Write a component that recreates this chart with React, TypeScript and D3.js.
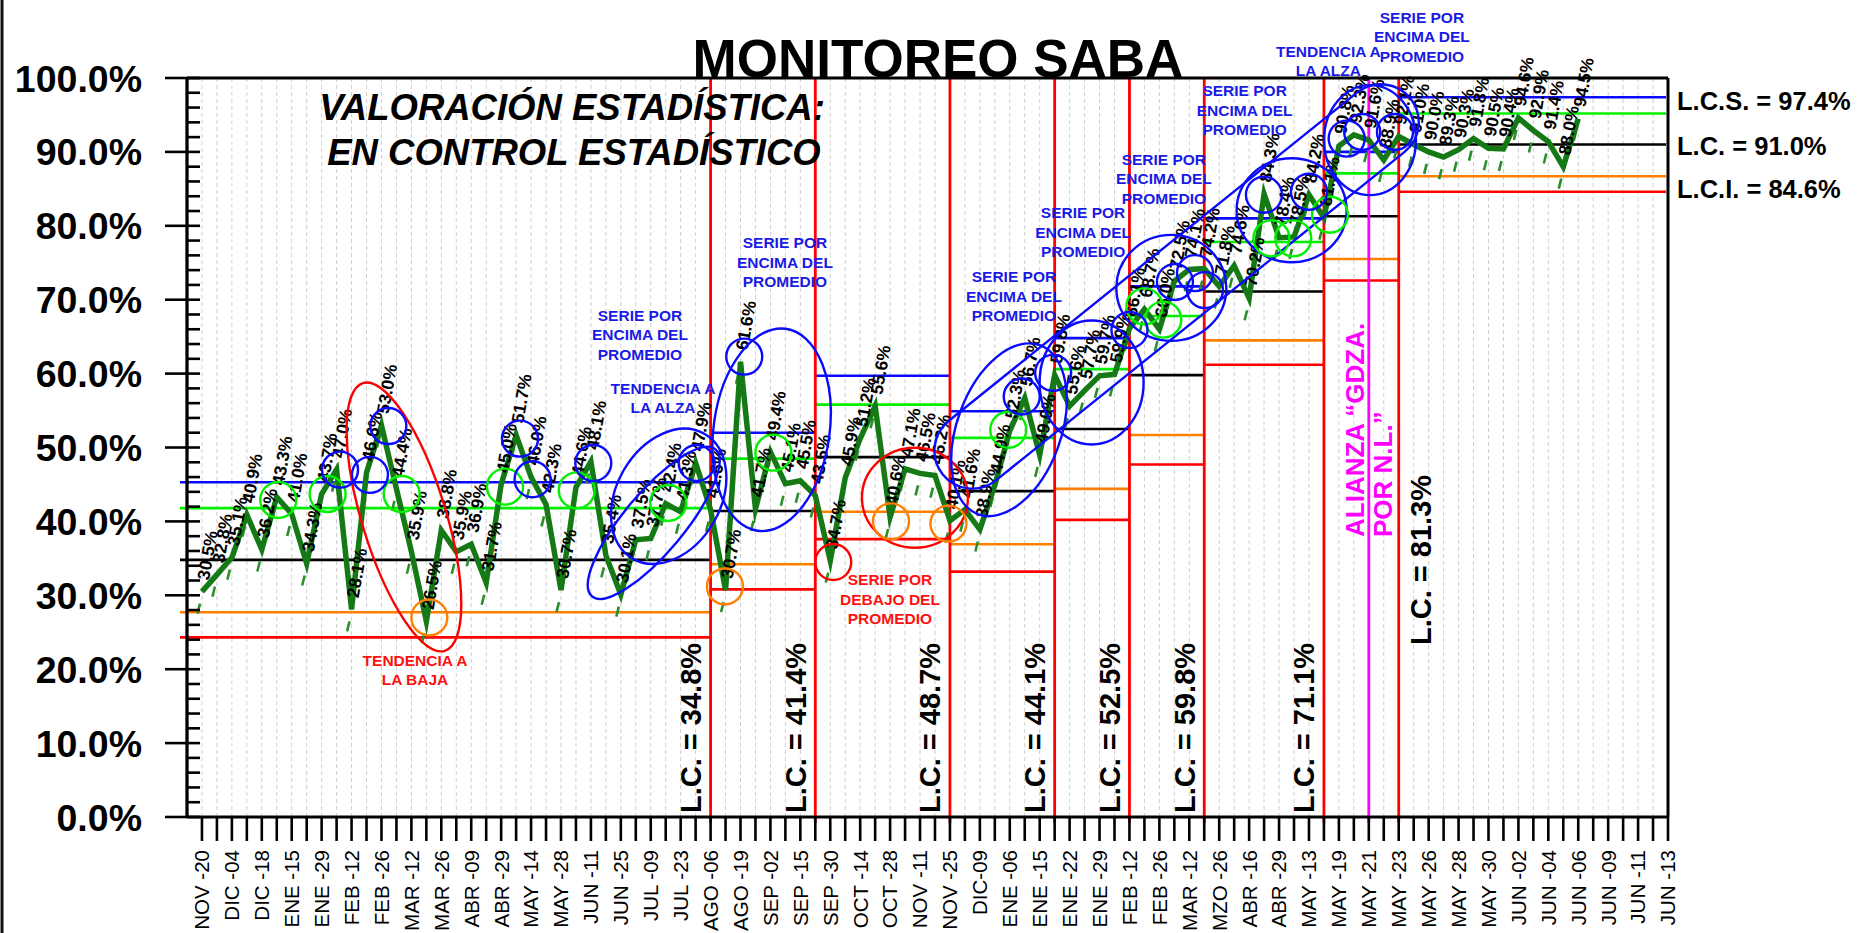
import React from 'react';
import * as d3 from 'd3';

const values = [
  30.5, 32.8, 35.1, 40.9, 36.2, 43.3, 41.0, 34.3, 43.7, 47.0,
  28.1, 46.6, 53.0, 44.4, 35.9, 26.5, 38.8, 35.9, 36.9, 31.7,
  45.0, 51.7, 46.0, 42.3, 30.7, 44.6, 48.1, 35.4, 30.1, 37.5,
  37.7, 42.4, 41.3, 47.9, 41.6,
  30.7, 61.6, 41.7, 49.4, 45.1, 45.5, 43.5,
  34.7, 45.9, 51.2, 55.6, 40.6, 47.1, 46.5, 46.2, 40.1,
  41.6, 38.9, 44.9, 52.3, 56.7, 49.0, 59.8,
  55.6, 57.7, 59.7, 59.9, 66.1,
  68.7, 66.0, 72.5, 74.1, 74.2,
  71.8, 74.6, 70.2, 84.3, 78.4, 78.5, 84.2, 81.1,
  90.8, 92.3, 91.6, 88.9, 92.1,
  91.0, 90.0, 89.3, 90.3, 91.8, 90.5, 90.4, 94.6, 92.9, 91.4, 88.0, 94.5,
];

const dateLabels = [
  'NOV -20', 'DIC -04', 'DIC -18', 'ENE -15', 'ENE -29', 'FEB -12', 'FEB -26', 'MAR -12', 'MAR -26', 'ABR -09',
  'ABR -29', 'MAY -14', 'MAY -28', 'JUN -11', 'JUN -25', 'JUL -09', 'JUL -23', 'AGO -06', 'AGO -19', 'SEP -02',
  'SEP -15', 'SEP -30', 'OCT -14', 'OCT -28', 'NOV -11', 'NOV -25', 'DIC-09', 'ENE -06', 'ENE -15', 'ENE -22',
  'ENE -29', 'FEB -12', 'FEB -26', 'MAR -12', 'MZO -26', 'ABR -16', 'ABR -29', 'MAY -13', 'MAY -19', 'MAY -21',
  'MAY -23', 'MAY -26', 'MAY -28', 'MAY -30', 'JUN -02', 'JUN -04', 'JUN -06', 'JUN -09', 'JUN -11', 'JUN -13',
];

const yTicks = [0, 10, 20, 30, 40, 50, 60, 70, 80, 90, 100];

const segStart = [0, 35, 42, 51, 58, 63, 68, 76, 81];
const segEnd = [35, 42, 51, 58, 63, 68, 76, 81, 99];
const segLC = [34.8, 41.4, 48.7, 44.1, 52.5, 59.8, 71.1, 81.3, 91.0];
const segLCS = [45.3, 52.0, 59.7, 54.9, 64.8, 71.8, 81.0, 90.0, 97.4];
const segUpper2 = [41.8, 48.5, 55.8, 51.3, 60.6, 67.8, 77.8, 87.1, 95.2];
const segLower2 = [27.7, 34.2, 41.3, 36.9, 44.4, 51.7, 64.5, 75.5, 86.7];
const segLCI = [24.3, 30.8, 37.6, 33.2, 40.2, 47.7, 61.2, 72.6, 84.6];

const redBreaks = [35, 42, 51, 58, 63, 68, 76, 81];
const allianceBreak = 79;

// annotation shapes in data coordinates [k, value]
const greenCircles = [[6.1, 42.9], [9.4, 43.7], [14.35, 43.7], [21.26, 44.7], [26.05, 44.2], [32.17, 42.5], [39.2, 49.3], [54.9, 52.4], [64.0, 69.1], [65.26, 67.3], [72.49, 78.3], [73.95, 78.3], [76.4, 81.5]];
const blueCircles = [[10.23, 47.0], [12.23, 46.3], [13.46, 52.9], [22.26, 51.2], [23.1, 45.7], [27.16, 47.9], [34.07, 47.9], [37.25, 62.3], [55.8, 56.9], [57.9, 60.1], [63.0, 65.9], [66.04, 72.4], [67.38, 73.6], [68.05, 71.3], [71.99, 84.2], [75.0, 84.6], [77.52, 91.8], [78.56, 92.7], [80.75, 92.7]];
const orangeCircles = [[16.2, 27.0], [35.96, 31.2], [47.06, 40.0], [50.9, 39.7]];
const redCircles = [[43.2, 34.5]];
const ellipses = [
  { k: 14.5, v: 40.6, rx: 140, ry: 42, rot: 73, c: 'red' },
  { k: 32.2, v: 43.4, rx: 52, ry: 72, rot: 30, c: 'blue' },
  { k: 31.2, v: 39.8, rx: 96, ry: 30, rot: -50, c: 'blue' },
  { k: 39.08, v: 52.4, rx: 58, ry: 102, rot: 8, c: 'blue' },
  { k: 48.66, v: 43.2, rx: 53, ry: 50, rot: 0, c: 'red' },
  { k: 54.95, v: 52.4, rx: 52, ry: 90, rot: 20, c: 'blue' },
  { k: 60.47, v: 58.8, rx: 52, ry: 62, rot: 0, c: 'blue' },
  { k: 65.8, v: 71.6, rx: 55, ry: 53, rot: 0, c: 'blue' },
  { k: 73.84, v: 82.1, rx: 55, ry: 52, rot: 0, c: 'blue' },
  { k: 79.08, v: 91.6, rx: 46, ry: 55, rot: 0, c: 'blue' },
];
const stadium = { k: 66.15, v: 71.8, w: 600, h: 76, rot: -38.8 };

const notes = [
  { k: 30.28, v: 67.9, lines: ['SERIE POR', 'ENCIMA DEL', 'PROMEDIO'], c: 'blue' },
  { k: 31.82, v: 58.0, lines: ['TENDENCIA A', 'LA ALZA'], c: 'blue' },
  { k: 39.97, v: 77.7, lines: ['SERIE POR', 'ENCIMA DEL', 'PROMEDIO'], c: 'blue' },
  { k: 55.28, v: 73.1, lines: ['SERIE POR', 'ENCIMA DEL', 'PROMEDIO'], c: 'blue' },
  { k: 59.9, v: 81.8, lines: ['SERIE POR', 'ENCIMA DEL', 'PROMEDIO'], c: 'blue' },
  { k: 65.3, v: 89.0, lines: ['SERIE POR', 'ENCIMA DEL', 'PROMEDIO'], c: 'blue' },
  { k: 70.7, v: 98.3, lines: ['SERIE POR', 'ENCIMA DEL', 'PROMEDIO'], c: 'blue' },
  { k: 76.3, v: 103.6, lines: ['TENDENCIA A', 'LA ALZA'], c: 'blue' },
  { k: 82.55, v: 108.2, lines: ['SERIE POR', 'ENCIMA DEL', 'PROMEDIO'], c: 'blue' },
  { k: 15.24, v: 21.2, lines: ['TENDENCIA A', 'LA BAJA'], c: 'red' },
  { k: 46.99, v: 32.1, lines: ['SERIE POR', 'DEBAJO DEL', 'PROMEDIO'], c: 'red' },
];

const COL: Record<string, string> = {
  blue: '#0a0aff', green: '#00f000', red: '#ff0000', orange: '#ff8000', black: '#000000',
};
const TEXTCOL: Record<string, string> = { blue: '#1a1ae6', red: '#ff1010' };
const DATA_GREEN = '#157a15';
const FONT = 'Liberation Sans, Arial, sans-serif';

export default function App() {
  const x = d3.scaleLinear().domain([0, 99]).range([187, 1668]);
  const y = d3.scaleLinear().domain([0, 100]).range([817, 78]);
  const pts: [number, number][] = values.map((v, i) => [x(i + 1), y(v)]);
  const linePath = d3.line().curve(d3.curveLinear)(pts) || '';
  const minorTicks = d3.range(0, 101, 2);
  const grid = d3.range(1, 99);
  const xTicks = d3.range(1, 100);

  const segLines = (arr: number[], color: string) =>
    arr.map((v, i) => (
      <line key={color + i} x1={i === 0 ? 180 : x(segStart[i])} x2={x(segEnd[i]) - (i === 8 ? 2 : 0)}
        y1={y(v)} y2={y(v)} stroke={color} strokeWidth={2.6} />
    ));

  return (
    <svg width={1858} height={933} style={{ position: 'absolute', left: 0, top: 0, background: '#fff' }}
      fontFamily={FONT}>
      <rect x={0} y={0} width={1858} height={933} fill="#fff" />
      <line x1={2} x2={2} y1={0} y2={933} stroke="#111" strokeWidth={3} />

      {/* vertical dashed grid */}
      {grid.map((k) => (
        <line key={'g' + k} x1={x(k)} x2={x(k)} y1={y(100)} y2={y(0)} stroke="#cfcfcf"
          strokeWidth={1} strokeDasharray="4,3" />
      ))}

      {/* limit lines */}
      {segLines(segLCI, COL.red)}
      {segLines(segLower2, COL.orange)}
      {segLines(segLC, COL.black)}
      {segLines(segUpper2, COL.green)}
      {segLines(segLCS, COL.blue)}

      {/* segment break lines */}
      {redBreaks.map((k) => (
        <line key={'rb' + k} x1={x(k)} x2={x(k)} y1={y(100)} y2={y(0) + 6} stroke={COL.red} strokeWidth={2.8} />
      ))}
      <line x1={x(allianceBreak)} x2={x(allianceBreak)} y1={y(100)} y2={y(0) + 6} stroke="#ff00ff" strokeWidth={2.8} />

      {/* shadow dashes */}
      {pts.map(([px, py], i) => (
        <line key={'d' + i} x1={px - 2} y1={py + 12} x2={px - 4.5} y2={py + 22} stroke="#2a8f2a" strokeWidth={2.6} />
      ))}

      {/* data line */}
      <path d={linePath} fill="none" stroke={DATA_GREEN} strokeWidth={5.5} strokeLinejoin="miter" strokeMiterlimit={6} />

      {/* data labels */}
      {pts.map(([px, py], i) => (
        <text key={'l' + i} transform={`translate(${px + 1},${py - 12}) rotate(-80)`} fontSize={17.5}
          fontWeight="bold" dy="0.35em" fill="#000">{values[i].toFixed(1) + '%'}</text>
      ))}

      {/* axes and frame */}
      <line x1={x(0)} x2={x(99)} y1={y(100)} y2={y(100)} stroke="#000" strokeWidth={3} />
      <line x1={x(99)} x2={x(99)} y1={y(100)} y2={y(0)} stroke="#000" strokeWidth={3} />
      <line x1={x(0)} x2={x(99)} y1={y(0)} y2={y(0)} stroke="#000" strokeWidth={3} />
      <line x1={x(0)} x2={x(0)} y1={y(100)} y2={y(0)} stroke="#000" strokeWidth={3.3} />
      {minorTicks.map((t) => (
        <line key={'mt' + t} x1={x(0)} x2={x(0) + 13} y1={y(t)} y2={y(t)} stroke="#000" strokeWidth={2.6} />
      ))}
      {yTicks.map((t) => (
        <g key={'yt' + t}>
          <line x1={x(0) - 22} x2={x(0)} y1={y(t)} y2={y(t)} stroke="#000" strokeWidth={2.6} />
          <text x={142} y={y(t)} dy="0.36em" textAnchor="end" fontSize={37.5} fontWeight="bold">{t.toFixed(1) + '%'}</text>
        </g>
      ))}
      {xTicks.map((k) => (
        <line key={'xt' + k} x1={x(k)} x2={x(k)} y1={y(0)} y2={y(0) + 24} stroke="#000" strokeWidth={2.6} />
      ))}
      {dateLabels.map((lab, j) => (
        <text key={'xl' + j} transform={`translate(${x(2 * j + 1)},850) rotate(-90)`} textAnchor="end"
          dy="0.36em" fontSize={20.5}>{lab}</text>
      ))}

      {/* L.C. labels per segment */}
      {segLC.slice(0, 8).map((v, i) => {
        const isLast = i === 7;
        const tx = isLast ? x(segEnd[i]) + 22 : x(segEnd[i]) - 20;
        const ty = isLast ? 645 : 813;
        return (
          <text key={'lc' + i} transform={`translate(${tx},${ty}) rotate(-90)`} dy="0.36em" fontSize={29}
            fontWeight="bold">{`L.C. = ${v.toFixed(1)}%`}</text>
        );
      })}

      {/* right side labels */}
      <text x={1677} y={y(segLCS[8]) + 13} fontSize={25.5} fontWeight="bold">{`L.C.S. = ${segLCS[8].toFixed(1)}%`}</text>
      <text x={1677} y={y(segLC[8]) + 10.5} fontSize={25.5} fontWeight="bold">{`L.C. = ${segLC[8].toFixed(1)}%`}</text>
      <text x={1677} y={y(segLCI[8]) + 6.5} fontSize={25.5} fontWeight="bold">{`L.C.I. = ${segLCI[8].toFixed(1)}%`}</text>

      {/* alliance label */}
      <text transform={`translate(1355,537) rotate(-90)`} dy="0.36em" fontSize={26} fontWeight="bold" fill="#ff00ff">ALIANZA “GDZA.</text>
      <text transform={`translate(1383,537) rotate(-90)`} dy="0.36em" fontSize={26} fontWeight="bold" fill="#ff00ff">POR N.L.”</text>

      {/* annotation shapes */}
      {ellipses.map((e, i) => (
        <ellipse key={'e' + i} cx={0} cy={0} rx={e.rx} ry={e.ry}
          transform={`translate(${x(e.k)},${y(e.v)}) rotate(${e.rot})`} fill="none" stroke={COL[e.c]} strokeWidth={2.4} />
      ))}
      <rect x={-stadium.w / 2} y={-stadium.h / 2} width={stadium.w} height={stadium.h} rx={stadium.h / 2}
        transform={`translate(${x(stadium.k)},${y(stadium.v)}) rotate(${stadium.rot})`} fill="none" stroke={COL.blue} strokeWidth={2.4} />
      {greenCircles.map(([k, v], i) => (
        <circle key={'gc' + i} cx={x(k)} cy={y(v)} r={18} fill="none" stroke={COL.green} strokeWidth={2.4} />
      ))}
      {blueCircles.map(([k, v], i) => (
        <circle key={'bc' + i} cx={x(k)} cy={y(v)} r={18} fill="none" stroke={COL.blue} strokeWidth={2.4} />
      ))}
      {orangeCircles.map(([k, v], i) => (
        <circle key={'oc' + i} cx={x(k)} cy={y(v)} r={18} fill="none" stroke={COL.orange} strokeWidth={2.4} />
      ))}
      {redCircles.map(([k, v], i) => (
        <circle key={'rc' + i} cx={x(k)} cy={y(v)} r={18} fill="none" stroke={COL.red} strokeWidth={2.4} />
      ))}

      {/* annotation texts */}
      {notes.map((n, i) => (
        <text key={'n' + i} x={x(n.k)} y={y(n.v)} textAnchor="middle" fontSize={15.5} fontWeight="bold"
          fill={TEXTCOL[n.c]}>
          {n.lines.map((l, j) => (
            <tspan key={j} x={x(n.k)} dy={j === 0 ? '0.36em' : 19.5}>{l}</tspan>
          ))}
        </text>
      ))}

      {/* titles */}
      <text x={938} y={77} textAnchor="middle" fontSize={53} fontWeight="bold">MONITOREO SABA</text>
      <text x={572} y={120} textAnchor="middle" fontSize={36.5} fontWeight="bold" fontStyle="italic">VALORACIÓN ESTADÍSTICA:</text>
      <text x={574} y={165} textAnchor="middle" fontSize={36.5} fontWeight="bold" fontStyle="italic">EN CONTROL ESTADÍSTICO</text>
    </svg>
  );
}
